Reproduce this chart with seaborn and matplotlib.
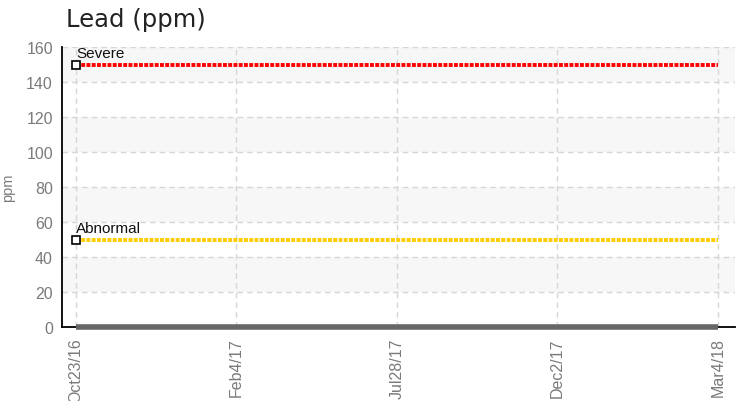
import numpy as np
import pandas as pd
import matplotlib
matplotlib.use("Agg")
import matplotlib.pyplot as plt
import seaborn as sns

# sample dates (plotted as evenly spaced categories)
dates = ["Oct23/16", "Feb4/17", "Jul28/17", "Dec2/17", "Mar4/18"]
lead = [0, 0, 0, 0, 0]
severe = [150, 150, 150, 150, 150]
abnormal = [50, 50, 50, 50, 50]
yticks = [0, 20, 40, 60, 80, 100, 120, 140, 160]

narrow = ["Liberation Sans", "DejaVu Sans"]

df = pd.DataFrame({"idx": range(len(dates)), "date": dates, "lead": lead,
                   "severe": severe, "abnormal": abnormal})

sns.set_style("white")
fig = plt.figure(figsize=(7.4, 4.02), dpi=100)
ax = fig.add_axes([62 / 740, 1 - 328 / 402, (735 - 62) / 740, (328 - 48) / 402])

# alternating bands
for i, lo in enumerate(yticks[:-1]):
    if i % 2 == 1:
        ax.axhspan(lo, lo + 20, color="#f7f7f7", zorder=0, lw=0)

ax.grid(True, color="#d6d6d6", linestyle=(0, (4, 3)), lw=1, zorder=1)
ax.set_axisbelow(True)

sns.lineplot(data=df, x="idx", y="severe", color="#ff0000", lw=2.8,
             linestyle=(0, (1, 0.35)), ax=ax, zorder=3)
sns.lineplot(data=df, x="idx", y="abnormal", color="#ffcc00", lw=2.8,
             linestyle=(0, (1, 0.35)), ax=ax, zorder=3)
sns.lineplot(data=df, x="idx", y="lead", color="#666666", lw=4, ax=ax,
             zorder=4, clip_on=False, solid_capstyle="butt")

# open square markers at start of limit lines
ax.plot(df["idx"][:1], df["severe"][:1], marker="s", ms=5.5, mfc="white",
        mec="black", mew=1.2, ls="none", zorder=5)
ax.plot(df["idx"][:1], df["abnormal"][:1], marker="s", ms=5.5, mfc="white",
        mec="black", mew=1.2, ls="none", zorder=5)
ax.text(0, severe[0] + 2.5, "Severe", family=narrow, fontsize=11,
        color="#111111", ha="left", va="bottom")
ax.text(0, abnormal[0] + 2.5, "Abnormal", family=narrow, fontsize=11,
        color="#111111", ha="left", va="bottom")

ax.set_xlim(-0.087, 4.106)
ax.set_ylim(0, 160)
ax.set_yticks(yticks)
ax.set_xticks(df["idx"])
ax.set_xticklabels(dates, rotation=90)
for lab in ax.get_xticklabels() + ax.get_yticklabels():
    lab.set_family(narrow)
    lab.set_fontsize(11.5)
    lab.set_color("#7a7a7a")
ax.tick_params(axis="both", direction="inout", length=7, width=1.2,
               color="black", pad=3)
ax.tick_params(axis="x", pad=4)

for s in ["top", "right"]:
    ax.spines[s].set_visible(False)
for s in ["left", "bottom"]:
    ax.spines[s].set_color("black")
    ax.spines[s].set_linewidth(1.3)

ax.set_xlabel("")
ax.set_ylabel("ppm", family=narrow, fontsize=10.5, color="#7a7a7a", labelpad=8)
fig.text(66 / 740, 1 - 8 / 402, "Lead (ppm)", fontsize=17.5, color="#222222",
         ha="left", va="top", family="DejaVu Sans")

fig.savefig("out.png", dpi=100)
